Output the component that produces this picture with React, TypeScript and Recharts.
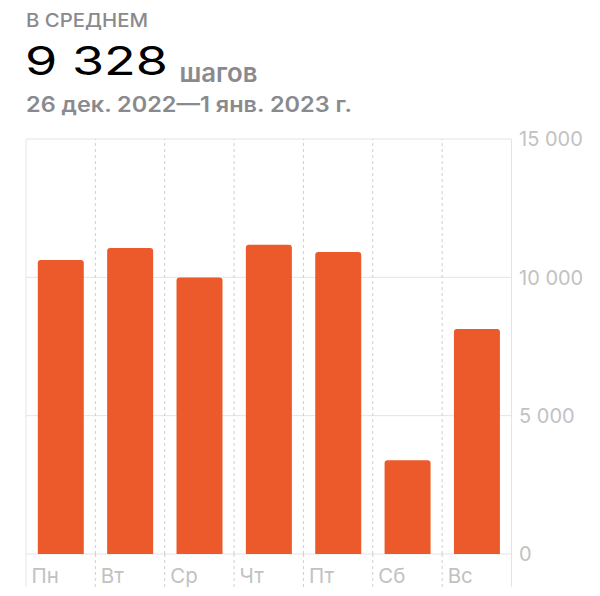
import React from "react";
import { BarChart, Bar, XAxis, YAxis, CartesianGrid, ReferenceLine } from "recharts";

const days = ["Пн", "Вт", "Ср", "Чт", "Пт", "Сб", "Вс"];
const steps = [10630, 11060, 9990, 11180, 10920, 3385, 8130];
const yTicks = [0, 5000, 10000, 15000];

const titleLabel = "В СРЕДНЕМ";
const averageText = "9 328";
const unitText = "шагов";
const rangeText = "26 дек. 2022—1 янв. 2023 г.";

const data = days.map((d, i) => ({ day: d, steps: steps[i] }));

const FONT = "Inter, 'Noto Sans', sans-serif";
const BAR = "#EC5A2C";
const GRID = "#e4e4e4";
const DASH = "#cfcfcf";
const LABEL = "#c2c2c2";
const HEAD = "#8a8a8e";

const fmt = (v: number) => String(v).replace(/\B(?=(\d{3})+(?!\d))/g, " ");

const YTick = (props: any) => {
  const { x, y, payload } = props;
  return (
    <text x={x + 7.5} y={y} dy="0.36em" fontFamily={FONT} fontSize={20} fill={LABEL} textAnchor="start">
      {fmt(payload.value)}
    </text>
  );
};

const XTick = (props: any) => {
  const { x, y, payload, index, width, visibleTicksCount } = props;
  const half = typeof payload.offset === "number" && payload.offset > 0 ? payload.offset : width / visibleTicksCount / 2;
  const left = x - half;
  const last = index === days.length - 1;
  return (
    <g>
      <line x1={left} x2={left} y1={y} y2={y + 33} stroke={index === 0 ? GRID : DASH} strokeDasharray={index === 0 ? undefined : "3 3"} />
      {last && <line x1={x + half} x2={x + half} y1={y} y2={y + 33} stroke={GRID} />}
      <text x={left + 5.5} y={y + 29} fontFamily={FONT} fontSize={20.5} fill={LABEL} textAnchor="start">
        {payload.value}
      </text>
    </g>
  );
};

export default function App() {
  return (
    <div style={{ position: "absolute", left: 0, top: 0, width: 600, height: 596, background: "#fff" }}>
      <BarChart
        width={600}
        height={596}
        data={data}
        margin={{ top: 139, left: 26, right: 0, bottom: 0 }}
        barCategoryGap="17%"
      >
        <CartesianGrid vertical={false} stroke={GRID} />
        <XAxis
          dataKey="day"
          height={42}
          axisLine={false}
          tickLine={false}
          tickSize={0}
          tickMargin={0}
          interval={0}
          tick={<XTick />}
        />
        <YAxis
          orientation="right"
          width={88.5}
          domain={[0, 15000]}
          ticks={yTicks}
          axisLine={false}
          tickLine={false}
          tickSize={0}
          tickMargin={0}
          tick={<YTick />}
        />
        <ReferenceLine x={days[0]} position="start" stroke={GRID} />
        {days.slice(1).map((d) => (
          <ReferenceLine key={d} x={d} position="start" stroke={DASH} strokeDasharray="3 3" />
        ))}
        <ReferenceLine x={days[days.length - 1]} position="end" stroke={GRID} />
        <Bar dataKey="steps" fill={BAR} radius={[3, 3, 0, 0]} isAnimationActive={false} />
      </BarChart>
      <svg width={600} height={130} style={{ position: "absolute", left: 0, top: 0, pointerEvents: "none" }}>
        <text x={26} y={27} fontFamily={FONT} fontSize={18.5} fontWeight={500} fill={HEAD} textLength={122} lengthAdjust="spacingAndGlyphs">
          {titleLabel}
        </text>
        <text x={25} y={75} fontFamily={FONT} fontSize={39.5} fontWeight={400} fill="#000" textLength={143} lengthAdjust="spacingAndGlyphs">
          {averageText}
        </text>
        <text x={179.5} y={82} fontFamily={FONT} fontSize={26} fontWeight={600} fill={HEAD} textLength={78} lengthAdjust="spacingAndGlyphs">
          {unitText}
        </text>
        <text x={26} y={112} fontFamily={FONT} fontSize={21} fontWeight={600} fill={HEAD} textLength={326} lengthAdjust="spacingAndGlyphs">
          {rangeText}
        </text>
      </svg>
    </div>
  );
}
